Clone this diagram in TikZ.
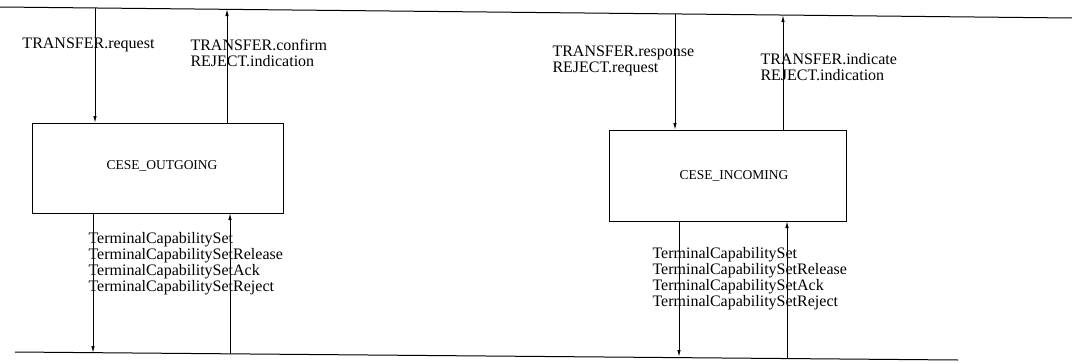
\documentclass[tikz,border=0pt]{standalone}
\usepackage{fontspec}
\setmainfont{Liberation Serif}
\usetikzlibrary{arrows.meta}
\begin{document}
\begin{tikzpicture}[x=1pt,y=-1pt,
  line width=1pt,
  box/.style={draw,line width=1pt},
  lbl/.style={anchor=west,align=left,inner sep=0pt,font=\fontsize{16}{16}\selectfont},
  boxlbl/.style={font=\fontsize{13.5}{14}\selectfont},
  arr/.style={-{Latex[length=7pt,width=3.5pt]}}]
\useasboundingbox (0,0) rectangle (1072,362);
% bus lines
\coordinate (tl) at (0,7);
\coordinate (tr) at (1072,18);
\coordinate (bl) at (15,352);
\coordinate (br) at (958,360);
\draw (tl) -- (tr);
\draw (bl) -- (br);
% boxes
\draw[box] (32,123) rectangle (283,213);
\node[boxlbl] (outg) at (162,166) {CESE\_OUTGOING};
\draw[box] (609,130) rectangle (846,221);
\node[boxlbl] (inc) at (734,176) {CESE\_INCOMING};
% coordinates on lines and boxes
\coordinate (a1t) at (95,8);   \coordinate (a1b) at (95,123);
\coordinate (a2t) at (227,9);  \coordinate (a2b) at (227,123);
\coordinate (a3t) at (93,213); \coordinate (a3b) at (93,353);
\coordinate (a4t) at (230,213);\coordinate (a4b) at (230,354);
\coordinate (b1t) at (675,14); \coordinate (b1b) at (675,130);
\coordinate (b2t) at (783,15); \coordinate (b2b) at (783,130);
\coordinate (b3t) at (679,221);\coordinate (b3b) at (679,357);
\coordinate (b4t) at (787,221);\coordinate (b4b) at (787,358);
\draw[arr] (a1t) -- (a1b);
\draw[arr] (a2b) -- (a2t);
\draw[arr] (a3t) -- (a3b);
\draw[arr] (a4b) -- (a4t);
\draw[arr] (b1t) -- (b1b);
\draw[arr] (b2b) -- (b2t);
\draw[arr] (b3t) -- (b3b);
\draw[arr] (b4b) -- (b4t);
% labels
\node[lbl] (l1) at (22,45) {TRANSFER.request};
\node[lbl] (l2) at (190,53) {TRANSFER.confirm\\REJECT.indication};
\node[lbl] (l3) at (88,264) {TerminalCapabilitySet\\TerminalCapabilitySetRelease\\TerminalCapabilitySetAck\\TerminalCapabilitySetReject};
\node[lbl] (r1) at (552,61) {TRANSFER.response\\REJECT.request};
\node[lbl] (r2) at (760,67) {TRANSFER.indicate\\REJECT.indication};
\node[lbl] (r3) at (652,279) {TerminalCapabilitySet\\TerminalCapabilitySetRelease\\TerminalCapabilitySetAck\\TerminalCapabilitySetReject};
\end{tikzpicture}
\end{document}
